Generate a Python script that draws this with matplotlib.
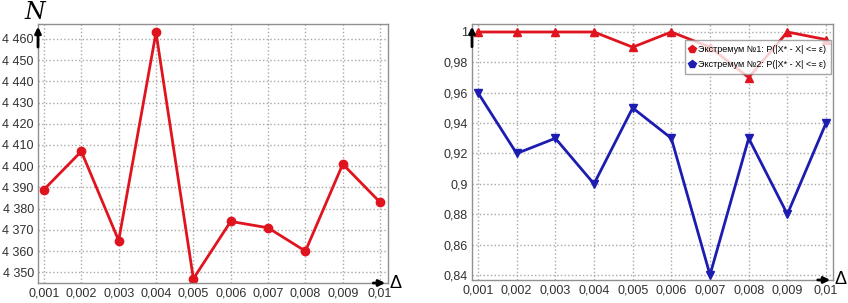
import numpy as np
import matplotlib.pyplot as plt
from matplotlib.ticker import FuncFormatter

# datos
delta = [0.001, 0.002, 0.003, 0.004, 0.005, 0.006, 0.007, 0.008, 0.009, 0.01]
n_vals = [4389, 4407, 4365, 4463, 4347, 4374, 4371, 4360, 4401, 4383]
p_ext1 = [1.0, 1.0, 1.0, 1.0, 0.99, 1.0, 0.99, 0.97, 1.0, 0.995]
p_ext2 = [0.96, 0.92, 0.93, 0.90, 0.95, 0.93, 0.84, 0.93, 0.88, 0.94]
x_labels = ['0,001', '0,002', '0,003', '0,004', '0,005', '0,006', '0,007', '0,008', '0,009', '0,01']
legend_labels = ['Экстремум №1: P(|X* - X| <= ε)', 'Экстремум №2: P(|X* - X| <= ε)']

plt.rcParams['font.family'] = ['Liberation Sans', 'DejaVu Sans']

fig = plt.figure(figsize=(8.48, 3.03), dpi=100)
ax1 = fig.add_axes([0.0448, 0.066, 0.4127, 0.855])
ax2 = fig.add_axes([0.5566, 0.076, 0.4257, 0.845])

def estilo(ax):
    ax.grid(True, color='#a8a8a8', linestyle=':', linewidth=1.0)
    ax.set_axisbelow(True)
    for s in ax.spines.values():
        s.set_color('#909090')
        s.set_linewidth(1.0)
    ax.tick_params(length=0, labelsize=9, pad=3, colors='#303030')
    ax.set_xticks(delta)
    ax.set_xticklabels(x_labels)
    # flechas de ejes
    ax.annotate('', xy=(0, 1.0), xytext=(0, 0.9), xycoords='axes fraction',
                arrowprops=dict(arrowstyle='-|>', color='black', lw=2, mutation_scale=9))
    ax.annotate('', xy=(1.0, 0), xytext=(0.95, 0), xycoords='axes fraction',
                arrowprops=dict(arrowstyle='-|>', color='black', lw=2, mutation_scale=9))
    ax.text(1.005, 0.0, 'Δ', transform=ax.transAxes, fontsize=13, ha='left', va='center')

# grafico izquierdo
ax1.plot(delta, n_vals, color='#e0141e', lw=2, marker='o', ms=6)
ax1.set_xlim(0.00084, 0.01021)
ax1.set_ylim(4345, 4467)
ax1.set_yticks(np.arange(4350, 4461, 10))
ax1.yaxis.set_major_formatter(FuncFormatter(lambda v, p: f'{int(v):,}'.replace(',', ' ')))
estilo(ax1)
ax1.text(-0.01, 1.0, 'N', transform=ax1.transAxes, fontsize=17, family='DejaVu Serif',
         style='italic', ha='center', va='bottom')

# grafico derecho
ax2.plot(delta, p_ext1, color='#e0141e', lw=2, marker='^', ms=6, label=legend_labels[0])
ax2.plot(delta, p_ext2, color='#1c1cb0', lw=2, marker='v', ms=6, label=legend_labels[1])
ax2.set_xlim(0.000845, 0.01018)
ax2.set_ylim(0.8367, 1.0053)
ax2.set_yticks(np.arange(0.84, 1.001, 0.02))
ax2.yaxis.set_major_formatter(FuncFormatter(lambda v, p: ('%g' % round(v, 2)).replace('.', ',')))
estilo(ax2)
leg = ax2.legend(loc='upper right', bbox_to_anchor=(0.997, 0.94), fontsize=6.5,
                 frameon=True, fancybox=False, edgecolor='#909090', handlelength=0.6,
                 borderpad=0.5, labelspacing=0.7, handletextpad=0.4, borderaxespad=0.1)
for h in leg.legend_handles:
    h.set_marker('p')
    h.set_linestyle('')

fig.savefig('out.png', dpi=100)
